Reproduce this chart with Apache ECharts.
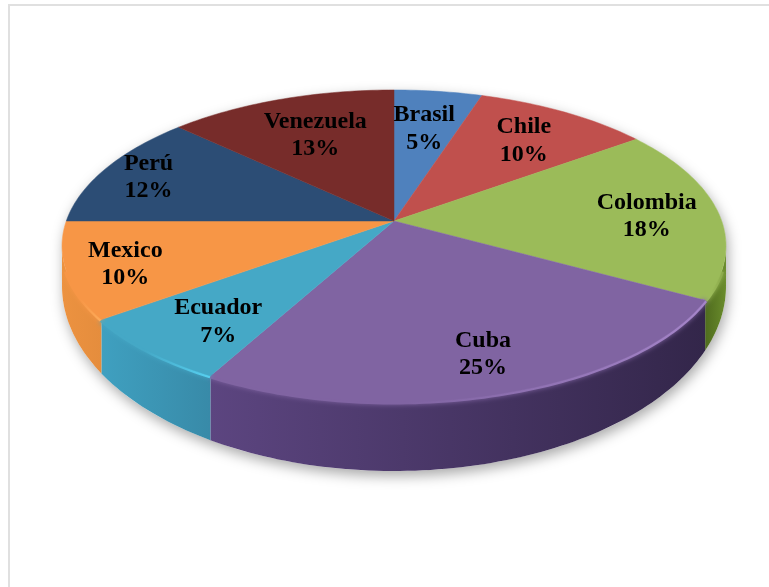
<!DOCTYPE html>
<html>
<head>
<meta charset="utf-8">
<style>
  html, body { margin: 0; padding: 0; background: #fff; overflow: hidden; }
  #frame { position: absolute; left: 8px; top: 4px; width: 790px; height: 620px; border: 2px solid #e0e0e0; box-sizing: border-box; }
  #chart { position: absolute; left: 0; top: 0; width: 769px; height: 587px; }
</style>
</head>
<body>
<div id="frame"></div>
<div id="chart"></div>
<script src="https://cdn.jsdelivr.net/npm/echarts@6/dist/echarts.min.js"></script>
<script>
// Share of each country, in percent, clockwise from twelve o'clock
const countries = ['Brasil', 'Chile', 'Colombia', 'Cuba', 'Ecuador', 'Mexico', 'Perú', 'Venezuela'];
const shares = [5, 10, 18, 25, 7, 10, 12, 13];

const topColors = ['#4f81bd', '#c0504d', '#9bbb59', '#8064a2', '#45a8c6', '#f79646', '#2c4d75', '#772c2a'];
const wallLeft  = ['#4f81bd', '#c0504d', '#4f6b1e', '#5c4580', '#3fa0c0', '#ec9240', '#2c4d75', '#772c2a'];
const wallRight = ['#3a5f8c', '#8e3a38', '#6a8c2c', '#33264a', '#388aa8', '#e58d3d', '#203858', '#571f1e'];
const rimColors = ['#4f81bd', '#c0504d', '#8aa84a', '#a585c9', '#58d2f2', '#ffae5c', '#2c4d75', '#772c2a'];

// Label nudges from the slice's default anchor, in pixels
const labelNudges = [[-3, 5], [3, 1], [19, 2], [15, 15], [-5, 11], [-36, 8], [-35, -5], [6, 5]];

// Projective view of the top face: apex position, size and tilt
const apexX = 394, apexY = 221, radiusX = 327.7, radiusY = 152, tilt = 0.16;
// Outline of the base of the disc, an ellipse lower and deeper than the top face
const baseHalfWidth = 332, baseCenterY = 286, baseHalfHeight = 185;
const anchorReach = 0.72;
// The bevel stops short of the widest points, where its ends would poke past the outline
const bevelInset = 0.16;

const total = shares.reduce((a, b) => a + b, 0);
const fullTurn = Math.PI * 2;
const starts = shares.map((_, i) => shares.slice(0, i).reduce((a, b) => a + b, 0) / total * fullTurn);
// Angles at which the top face reaches its widest points; the wall shows between them
const frontStart = Math.PI / 2 + Math.asin(tilt);
const frontEnd = fullTurn - frontStart;

function project(angle, reach) {
  const u = Math.sin(angle) * reach, v = Math.cos(angle) * reach, w = 1 + tilt * v;
  return [apexX + radiusX * u / w, apexY - radiusY * v / w];
}
function baseBelow(x) {
  const t = Math.min(1, Math.abs(x - apexX) / baseHalfWidth);
  return [x, baseCenterY + baseHalfHeight * Math.sqrt(1 - t * t)];
}
function arc(a0, a1) {
  const n = Math.max(2, Math.ceil(Math.abs(a1 - a0) / 0.02));
  const pts = [];
  for (let k = 0; k <= n; k++) pts.push(project(a0 + (a1 - a0) * k / n, 1));
  return pts;
}
const sliceSpan = i => [starts[i], starts[i] + shares[i] / total * fullTurn];
function frontSpan(i, inset) {
  const [a0, a1] = sliceSpan(i);
  const s = Math.max(a0, frontStart + inset), e = Math.min(a1, frontEnd - inset);
  return e > s ? [s, e] : null;
}
const empty = { type: 'group', children: [] };

// Soft ground shadow under the disc
function renderShadow(params) {
  if (params.dataIndex !== 0) return empty;
  const rim = arc(frontStart, frontEnd);
  const back = arc(frontEnd, frontStart + fullTurn);
  return {
    type: 'polygon',
    shape: { points: rim.map(p => baseBelow(p[0])).concat(back) },
    style: { fill: '#fff', shadowColor: 'rgba(0,0,0,0.34)', shadowBlur: 13, shadowOffsetX: 2, shadowOffsetY: 5 },
    silent: true
  };
}

// Outer wall of one slice, seen between the two widest points of the disc
function renderWall(params) {
  const i = params.dataIndex, span = frontSpan(i, 0);
  if (!span) return empty;
  const rim = arc(span[0], span[1]);
  const foot = rim.map(p => baseBelow(p[0])).reverse();
  return {
    type: 'polygon',
    shape: { points: rim.concat(foot) },
    style: {
      fill: new echarts.graphic.LinearGradient(0, 0, 1, 0, [
        { offset: 0, color: wallLeft[i] }, { offset: 1, color: wallRight[i] }
      ])
    },
    silent: true
  };
}

// Top face of one slice, the soft bevel on its front edge, and its label
function renderTop(params, api) {
  const i = params.dataIndex, [a0, a1] = sliceSpan(i);
  const anchor = project((a0 + a1) / 2, anchorReach);
  const children = [];
  const span = frontSpan(i, bevelInset);
  if (span) {
    children.push({
      type: 'polyline',
      shape: { points: arc(span[0], span[1]) },
      style: {
        fill: 'none', lineWidth: 5,
        stroke: new echarts.graphic.LinearGradient(1, 0, 0, 0, [
          { offset: 0, color: rimColors[i] },
          { offset: 0.6, color: topColors[i] },
          { offset: 1, color: topColors[i] }
        ]),
        shadowColor: topColors[i], shadowBlur: 5
      }
    });
  }
  children.push({
    type: 'polygon',
    shape: { points: [[apexX, apexY]].concat(arc(a0, a1)) },
    style: { fill: topColors[i], stroke: topColors[i], lineWidth: 0.5 }
  });
  children.push({
    type: 'text',
    x: anchor[0] + labelNudges[i][0],
    y: anchor[1] + labelNudges[i][1],
    z2: 10,
    style: {
      text: countries[i] + '\n' + api.value(0) + '%',
      fill: '#000',
      font: 'bold 24px "Liberation Serif", "Times New Roman", serif',
      lineHeight: 27.5,
      align: 'center',
      verticalAlign: 'middle'
    }
  });
  return { type: 'group', children };
}

const rows = countries.map((name, i) => ({ name, value: [shares[i]] }));
const layer = renderItem => ({
  type: 'custom', coordinateSystem: 'none', renderItem, data: rows, animation: false, silent: true
});

const chart = echarts.init(document.getElementById('chart'), null, { renderer: 'canvas' });
chart.setOption({
  animation: false,
  tooltip: { show: false },
  series: [layer(renderShadow), layer(renderWall), layer(renderTop)]
});
</script>
</body>
</html>
